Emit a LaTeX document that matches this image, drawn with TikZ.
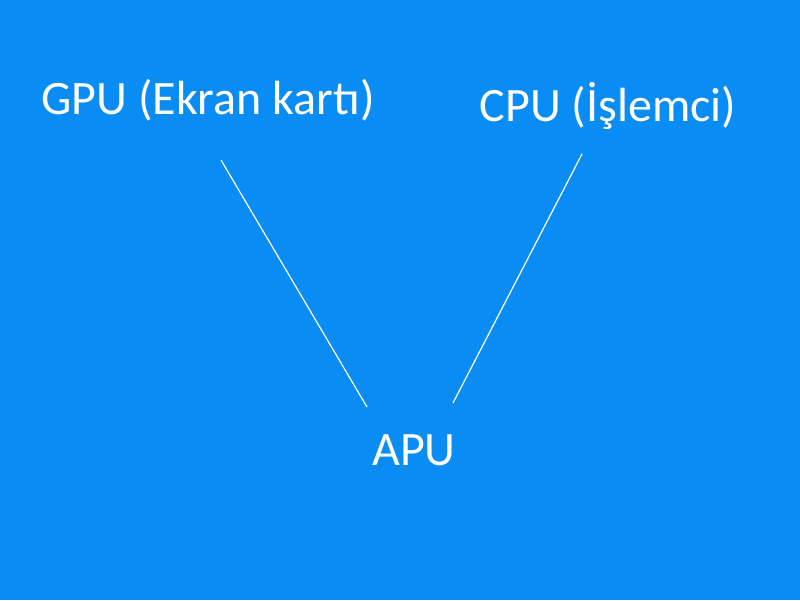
\documentclass[tikz,border=0pt]{standalone}
\usepackage{fontspec}
\setmainfont{Carlito}
\definecolor{bgblue}{HTML}{0A8CF5}
\begin{document}
\begin{tikzpicture}[x=1pt,y=1pt,
  lbl/.style={text=white,font=\fontsize{48}{54}\selectfont,inner sep=0pt},
  link/.style={white,line width=1.2pt}]

% background
\fill[bgblue] (0,0) rectangle (800,600);
\useasboundingbox (0,0) rectangle (800,600);

% labels
\node[lbl] (gpu) at (208,500) {GPU (Ekran kartı)};
\node[lbl] (cpu) at (608,494) {CPU (İşlemci)};
\node[lbl] (apu) at (414,150) {APU};

% line ends
\coordinate (gpuend) at (221,440);
\coordinate (apuleft) at (367,193);
\coordinate (cpuend) at (582,446);
\coordinate (apuright) at (453,197);

% connecting lines
\draw[link] (gpuend) -- (apuleft);
\draw[link] (cpuend) -- (apuright);
\end{tikzpicture}
\end{document}
